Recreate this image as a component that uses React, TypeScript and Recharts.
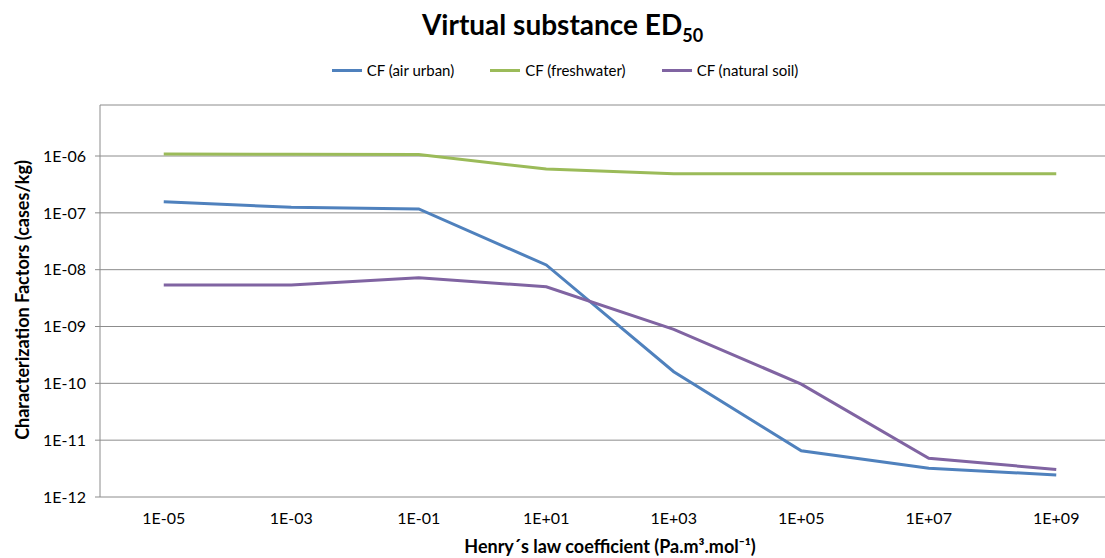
import React from 'react'
import { LineChart, Line, XAxis, YAxis, CartesianGrid } from 'recharts'

// Henry's law coefficient categories (Pa.m3.mol-1)
const hLabels = ['1E-05', '1E-03', '1E-01', '1E+01', '1E+03', '1E+05', '1E+07', '1E+09']

// characterization factors (cases/kg)
const airUrban = [1.57e-7, 1.25e-7, 1.17e-7, 1.21e-8, 1.6e-10, 6.5e-12, 3.2e-12, 2.44e-12]
const freshwater = [1.08e-6, 1.07e-6, 1.06e-6, 5.9e-7, 4.85e-7, 4.85e-7, 4.85e-7, 4.85e-7]
const naturalSoil = [5.37e-9, 5.37e-9, 7.2e-9, 5.0e-9, 8.9e-10, 9.7e-11, 4.8e-12, 3.05e-12]

const yTicks = [1e-12, 1e-11, 1e-10, 1e-9, 1e-8, 1e-7, 1e-6]

const series = [
  { key: 'airUrban', name: 'CF (air urban)', color: '#4F81BD' },
  { key: 'freshwater', name: 'CF (freshwater)', color: '#9BBB59' },
  { key: 'naturalSoil', name: 'CF (natural soil)', color: '#8064A2' },
]

const data = hLabels.map((h, i) => ({
  i,
  h,
  airUrban: airUrban[i],
  freshwater: freshwater[i],
  naturalSoil: naturalSoil[i],
}))

const sci = (v: number) => {
  const e = Math.round(Math.log10(v))
  return '1E' + (e < 0 ? '-' : '+') + String(Math.abs(e)).padStart(2, '0')
}

const gridColor = '#8c8c8c'
const font = 'Lato, "Open Sans", sans-serif'

export default function App() {
  return (
    <div
      style={{
        position: 'fixed',
        left: 0,
        top: 0,
        width: 1105,
        height: 558,
        overflow: 'hidden',
        background: '#fff',
        fontFamily: font,
      }}
    >
      <div
        style={{
          position: 'absolute',
          left: 0,
          top: 7,
          width: 1125,
          textAlign: 'center',
          fontSize: 28,
          fontWeight: 700,
          color: '#000',
        }}
      >
        Virtual substance ED<sub style={{ fontSize: 18 }}>50</sub>
      </div>

      <div
        style={{
          position: 'absolute',
          left: 0,
          top: 61,
          width: 1130,
          display: 'flex',
          justifyContent: 'center',
          gap: 36,
          fontSize: 15,
          color: '#000',
        }}
      >
        {series.map((s) => (
          <div key={s.key} style={{ display: 'flex', alignItems: 'center' }}>
            <span style={{ display: 'inline-block', width: 30, height: 3, background: s.color, marginRight: 5 }} />
            <span>{s.name}</span>
          </div>
        ))}
      </div>

      <div
        style={{
          position: 'absolute',
          left: 22,
          top: 300,
          transform: 'translate(-50%, -50%) rotate(-90deg)',
          whiteSpace: 'nowrap',
          fontSize: 18,
          fontWeight: 700,
          color: '#000',
        }}
      >
        Characterization Factors (cases/kg)
      </div>

      <div
        style={{
          position: 'absolute',
          left: 0,
          top: 535,
          width: 1220,
          textAlign: 'center',
          fontSize: 18,
          fontWeight: 700,
          color: '#000',
        }}
      >
        Henry´s law coefficient (Pa.m³.mol⁻¹)
      </div>

      <LineChart
        width={1125}
        height={558}
        data={data}
        margin={{ top: 105, right: 5, bottom: 31, left: 10 }}
        style={{ position: 'absolute', left: 0, top: 0 }}
      >
        <CartesianGrid vertical={false} stroke={gridColor} strokeWidth={1} />
        <XAxis
          dataKey="i"
          type="number"
          domain={[-0.5, 7.5]}
          ticks={[0, 1, 2, 3, 4, 5, 6, 7]}
          tickFormatter={(v: number) => hLabels[v]}
          axisLine={false}
          tickLine={false}
          tickMargin={10}
          height={30}
          tick={{ fill: '#000', fontSize: 16, fontFamily: font }}
          allowDataOverflow
        />
        <XAxis
          xAxisId="top"
          orientation="top"
          type="number"
          domain={[-0.5, 7.5]}
          ticks={[0.5, 1.5, 2.5, 3.5, 4.5, 5.5, 6.5]}
          tickFormatter={() => ''}
          axisLine={{ stroke: gridColor }}
          tickLine={{ stroke: gridColor }}
          tickSize={5}
          mirror
          height={0}
        />
        <YAxis
          scale="log"
          domain={[1e-12, 7.9e-6]}
          ticks={yTicks}
          tickFormatter={sci}
          allowDataOverflow
          width={90}
          axisLine={{ stroke: gridColor }}
          tickLine={{ stroke: gridColor }}
          tickSize={5}
          tickMargin={9}
          tick={{ fill: '#000', fontSize: 16, fontFamily: font }}
        />
        {series.map((s) => (
          <Line
            key={s.key}
            dataKey={s.key}
            name={s.name}
            type="linear"
            stroke={s.color}
            strokeWidth={3}
            dot={false}
            isAnimationActive={false}
          />
        ))}
      </LineChart>
    </div>
  )
}
